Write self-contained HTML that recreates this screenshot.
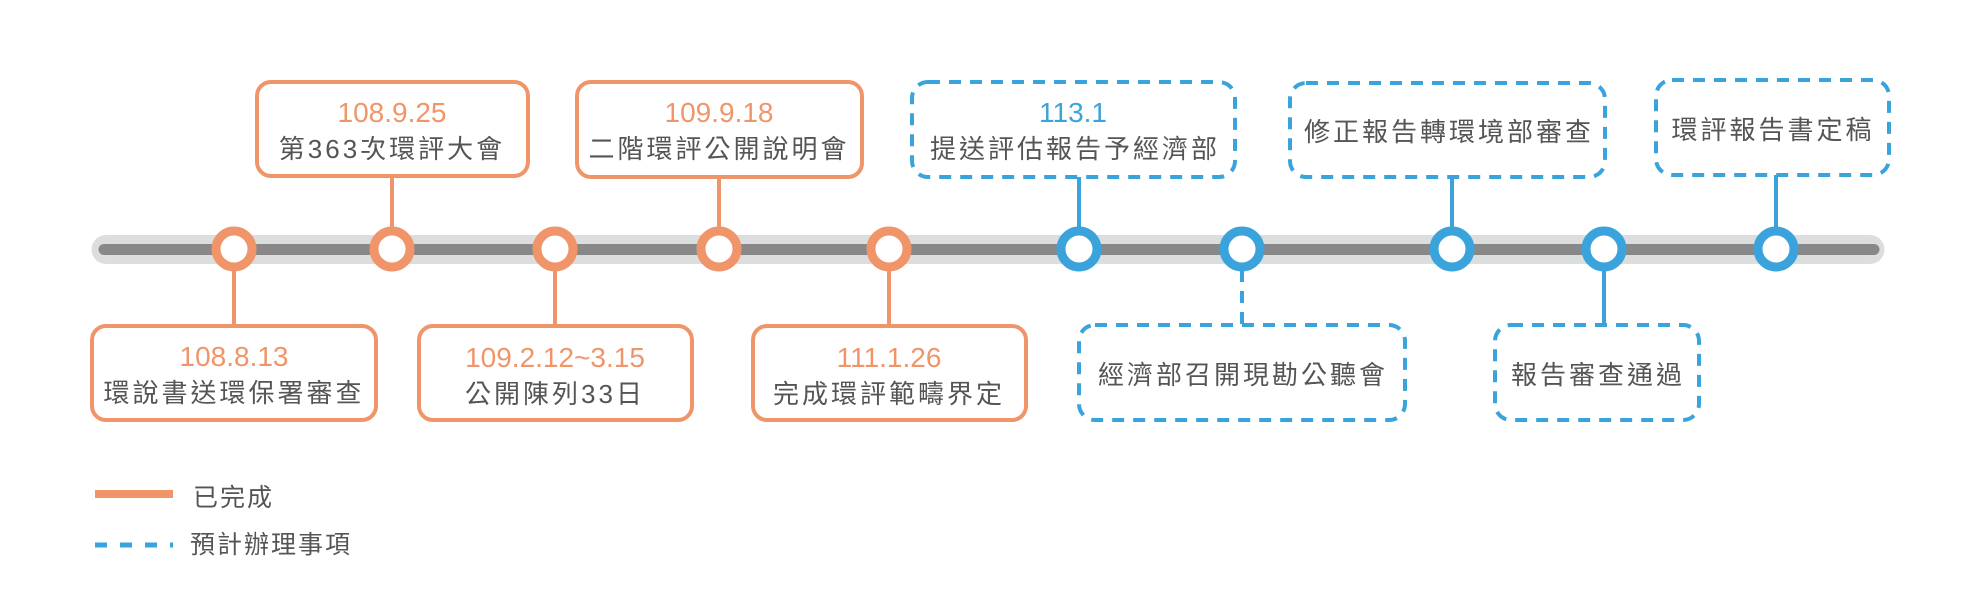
<!DOCTYPE html>
<html><head><meta charset="utf-8"><style>
html,body{margin:0;padding:0;background:#fff;}
svg text{font-family:"Liberation Sans","Noto Sans CJK TC",sans-serif;}
.d{font-size:28px;text-anchor:middle;}
.l{font-size:26px;fill:#555;text-anchor:middle;letter-spacing:3px;}
</style></head><body>
<svg width="1978" height="607" viewBox="0 0 1978 607" xmlns="http://www.w3.org/2000/svg">
<g fill="none" stroke-width="4">
<g stroke="#f0956a">
<line x1="234" y1="249" x2="234" y2="326"/>
<line x1="392" y1="176" x2="392" y2="249"/>
<line x1="555" y1="249" x2="555" y2="326"/>
<line x1="719" y1="177" x2="719" y2="249"/>
<line x1="889" y1="249" x2="889" y2="326"/>
<rect x="92" y="326" width="284" height="94" rx="14"/>
<rect x="257" y="82" width="271" height="94" rx="14"/>
<rect x="419" y="326" width="273" height="94" rx="14"/>
<rect x="577" y="82" width="285" height="95" rx="14"/>
<rect x="753" y="326" width="273" height="94" rx="14"/>
</g>
<g stroke="#3ba3db">
<line x1="1079" y1="177" x2="1079" y2="249"/>
<line x1="1242" y1="249" x2="1242" y2="325" stroke-dasharray="12 9"/>
<line x1="1452" y1="177" x2="1452" y2="249"/>
<line x1="1604" y1="249" x2="1604" y2="325"/>
<line x1="1776" y1="175" x2="1776" y2="249"/>
<g stroke-dasharray="12 9">
<rect x="912" y="82" width="323" height="95" rx="16"/>
<rect x="1290" y="83" width="315" height="94" rx="16"/>
<rect x="1656" y="80" width="233" height="95" rx="16"/>
<rect x="1079" y="325" width="326" height="95" rx="16"/>
<rect x="1495" y="325" width="204" height="95" rx="16"/>
</g>
</g>
</g>
<line x1="106" y1="249.5" x2="1870" y2="249.5" stroke="#dcdddd" stroke-width="29" stroke-linecap="round"/>
<line x1="104" y1="249.5" x2="1874" y2="249.5" stroke="#888" stroke-width="11" stroke-linecap="round"/>
<g fill="#fff" stroke-width="9">
<g stroke="#f0956a">
<circle cx="234" cy="249" r="18"/><circle cx="392" cy="249" r="18"/><circle cx="555" cy="249" r="18"/><circle cx="719" cy="249" r="18"/><circle cx="889" cy="249" r="18"/>
</g>
<g stroke="#3ba3db">
<circle cx="1079" cy="249" r="18"/><circle cx="1242" cy="249" r="18"/><circle cx="1452" cy="249" r="18"/><circle cx="1604" cy="249" r="18"/><circle cx="1776" cy="249" r="18"/>
</g>
</g>
<g fill="#f0956a">
<text class="d" x="234" y="366">108.8.13</text>
<text class="d" x="392" y="122">108.9.25</text>
<text class="d" x="555" y="367">109.2.12~3.15</text>
<text class="d" x="719" y="122">109.9.18</text>
<text class="d" x="889" y="367">111.1.26</text>
</g>
<text class="d" x="1073" y="122" fill="#3ba3db">113.1</text>
<text class="l" x="234" y="402">環說書送環保署審查</text>
<text class="l" x="392" y="158">第363次環評大會</text>
<text class="l" x="555" y="403">公開陳列33日</text>
<text class="l" x="719" y="158">二階環評公開說明會</text>
<text class="l" x="889" y="403">完成環評範疇界定</text>
<text class="l" x="1075" y="158">提送評估報告予經濟部</text>
<text class="l" x="1449" y="141">修正報告轉環境部審查</text>
<text class="l" x="1773" y="139">環評報告書定稿</text>
<text class="l" x="1243" y="384">經濟部召開現勘公聽會</text>
<text class="l" x="1598" y="384">報告審查通過</text>
<line x1="95" y1="494" x2="173" y2="494" stroke="#f0956a" stroke-width="8"/>
<line x1="95" y1="545" x2="173" y2="545" stroke="#3ba3db" stroke-width="5" stroke-dasharray="12 13"/>
<text x="193" y="506" font-size="25" fill="#555" letter-spacing="2">已完成</text>
<text x="190" y="553" font-size="25" fill="#555" letter-spacing="2">預計辦理事項</text>
</svg>
</body></html>
